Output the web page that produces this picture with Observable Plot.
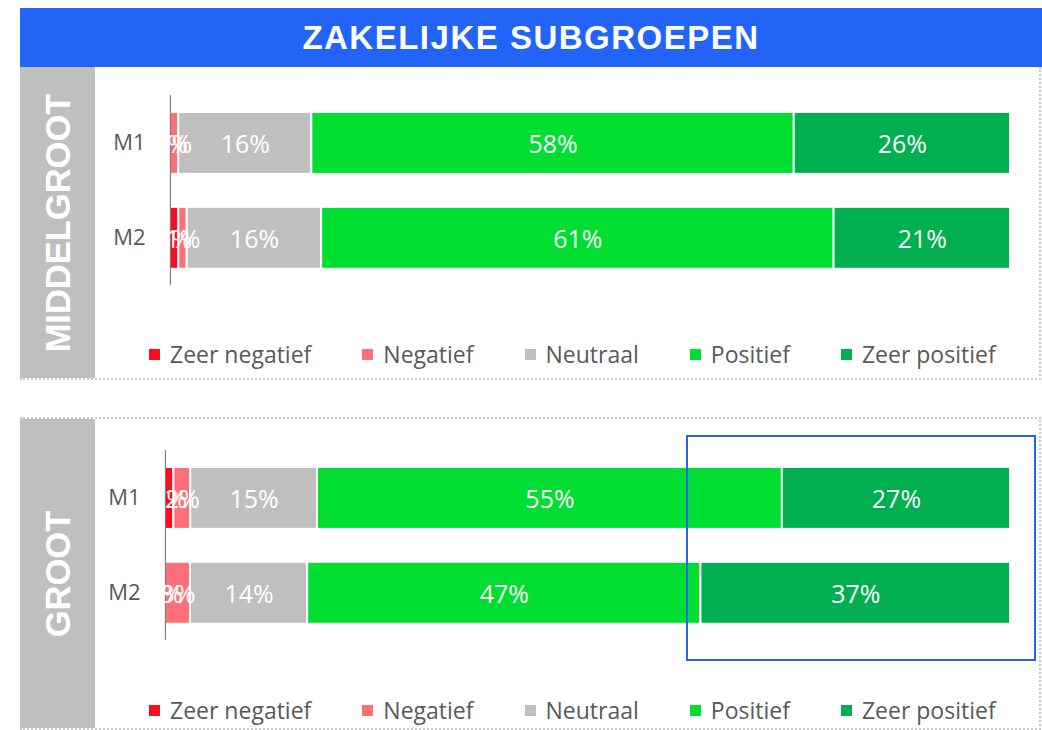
<!DOCTYPE html>
<html><head><meta charset="utf-8">
<script src="https://cdn.jsdelivr.net/npm/d3@7"></script>
<script src="https://cdn.jsdelivr.net/npm/@observablehq/plot@0.6"></script>
<style>
body{margin:0;background:#fff;width:1042px;height:730px;overflow:hidden;position:relative;font-family:"Open Sans",sans-serif;}
#title{position:absolute;left:20px;top:8px;width:1022px;height:59px;background:#2164F7;color:#fff;font:bold 33px "Liberation Sans",Arial,sans-serif;letter-spacing:1.5px;display:flex;align-items:center;justify-content:center;}
.panel{position:absolute;left:20px;width:1019px;border-right:2px dotted #c8c8c8;}
#p1{top:67px;height:311px;border-bottom:2px dotted #c8c8c8;}
#p2{top:417px;height:309px;border-top:2px dotted #c8c8c8;border-bottom:2px dotted #c8c8c8;}
.strip{position:absolute;left:0;top:0;width:75px;height:100%;background:#bfbfbf;}
.strip span{position:absolute;left:50%;top:50%;transform:translate(-50%,-50%) rotate(-90deg);color:#fff;font:bold 34.5px "Liberation Sans",Arial,sans-serif;white-space:nowrap;}
.chart{position:absolute;left:75px;top:0;}
.legend{position:absolute;left:129px;display:flex;gap:51px;font-size:23px;color:#595959;transform:translateY(-50%);}
.legend .item{display:flex;align-items:center;white-space:nowrap;}
.legend .sw{width:11px;height:11px;margin-right:10px;}
#highlight{position:absolute;left:686px;top:435px;width:346px;height:222px;border:2.5px solid #2164F7;}
</style>
</head><body>
<div id="title">ZAKELIJKE SUBGROEPEN</div>
<div class="panel" id="p1"><div class="strip"><span id="s1"></span></div><div class="chart" id="c1"></div><div class="legend" id="l1" style="top:287px"></div></div>
<div class="panel" id="p2"><div class="strip"><span id="s2"></span></div><div class="chart" id="c2"></div><div class="legend" id="l2" style="top:291px"></div></div>
<div id="highlight"></div>
<script>
const groups = ["MIDDELGROOT", "GROOT"];
const rows = ["M1", "M2"];
const categories = ["Zeer negatief", "Negatief", "Neutraal", "Positief", "Zeer positief"];
const colors = ["#FF0A1E", "#FF6F77", "#BFBFBF", "#00DE32", "#00B050"];
const middelM1 = [0, 1, 16, 58, 26];
const middelM2 = [1, 1, 16, 61, 21];
const grootM1 = [1, 2, 15, 55, 27];
const grootM2 = [0, 3, 14, 47, 37];

function table(m1, m2) {
  return rows.flatMap((r, i) => [m1, m2][i].map((v, j) => ({row: r, category: categories[j], value: v})));
}

function chart(data, o) {
  return Plot.plot({
    width: 945, height: o.height,
    marginLeft: o.ml, marginRight: 29, marginTop: o.mt, marginBottom: o.mb,
    x: {axis: null},
    y: {domain: rows, paddingInner: 0.35, paddingOuter: 0.175, axis: null},
    color: {domain: categories, range: colors},
    style: {fontFamily: "Open Sans", background: "transparent", overflow: "visible"},
    marks: [
      Plot.barX(data, Plot.stackX({x: "value", y: "row", fill: "category", offset: "normalize", stroke: "white", strokeWidth: 2})),
      Plot.ruleX([0], {stroke: "#7f7f7f", strokeWidth: 1.2}),
      Plot.textX(data, Plot.stackX({x: "value", y: "row", z: "category", offset: "normalize", text: d => d.value + "%", fill: "white", fontSize: 25, dy: 2})),
      Plot.axisY({tickSize: 0, tickPadding: 25, fontSize: 22, fill: "#595959", label: null})
    ]
  });
}

function legend(el) {
  categories.forEach((c, i) => {
    const it = document.createElement("div"); it.className = "item";
    const sw = document.createElement("div"); sw.className = "sw"; sw.style.background = colors[i];
    const t = document.createElement("span"); t.textContent = c;
    it.appendChild(sw); it.appendChild(t); el.appendChild(it);
  });
}

document.getElementById("s1").textContent = groups[0];
document.getElementById("s2").textContent = groups[1];
document.getElementById("c1").appendChild(chart(table(middelM1, middelM2), {height: 311, ml: 75, mt: 28, mb: 93}));
document.getElementById("c2").appendChild(chart(table(grootM1, grootM2), {height: 309, ml: 70, mt: 31, mb: 88}));
legend(document.getElementById("l1"));
legend(document.getElementById("l2"));
</script>
</body></html>
